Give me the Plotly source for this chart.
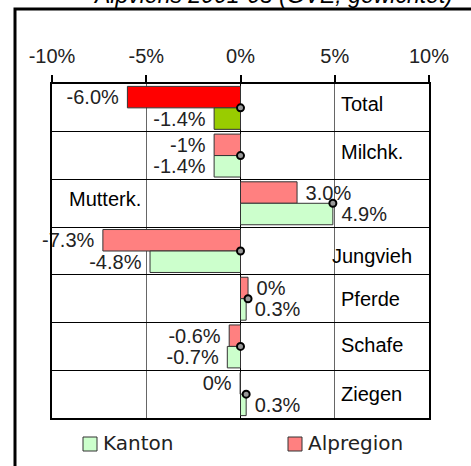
import plotly.graph_objects as go

# ---- data ----
categories = ["Total", "Milchk.", "Mutterk.", "Jungvieh", "Pferde", "Schafe", "Ziegen"]
alpregion = [-6.0, -1.4, 3.0, -7.3, 0.4, -0.6, -0.02]
kanton = [-1.4, -1.4, 4.9, -4.8, 0.3, -0.7, 0.3]
alpregion_labels = ["-6.0%", "-1%", "3.0%", "-7.3%", "0%", "-0.6%", "0%"]
kanton_labels = ["-1.4%", "-1.4%", "4.9%", "-4.8%", "0.3%", "-0.7%", "0.3%"]
marker_x = [0, 0, 4.9, 0, 0.4, 0, 0.3]
tick_vals = [-10, -5, 0, 5, 10]
tick_text = ["-10%", "-5%", "0%", "5%", "10%"]
title_text = "Alpviehs 2001-05 (GVE, gewichtet)"
legend_names = ["Kanton", "Alpregion"]

# ---- style ----
NUM_FONT = "Liberation Sans, Arial, sans-serif"
CAT_FONT = "Liberation Sans, Arial, sans-serif"
LEG_FONT = "DejaVu Sans, Verdana, sans-serif"
ALP_COL, ALP_TOTAL = "#FF8080", "#FF0000"
KAN_COL, KAN_TOTAL = "#CCFFCC", "#99CC00"
BW = 0.45

L, R, T, B = 52, 42, 84, 48
W, H = 471, 466
PW, PH = W - L - R, H - T - B


def px2paper_x(px):
    return (px - L) / PW


def px2paper_y(py):
    return (H - B - py) / PH


def pad_tpl(vals):
    return ["%{text}\u00a0" if v < 0 else "\u00a0%{text}" for v in vals]


alp_colors = [ALP_TOTAL if c == "Total" else ALP_COL for c in categories]
kan_colors = [KAN_TOTAL if c == "Total" else KAN_COL for c in categories]

fig = go.Figure()

fig.add_trace(go.Bar(
    name=legend_names[1], y=categories, x=alpregion, orientation="h",
    offset=-BW, width=BW,
    marker=dict(color=alp_colors, line=dict(color="#333333", width=1)),
    text=alpregion_labels, texttemplate=pad_tpl(alpregion),
    textposition="outside", constraintext="none", cliponaxis=False,
    outsidetextfont=dict(family=NUM_FONT, size=20, color="#222222"),
    showlegend=False, hoverinfo="skip",
))
fig.add_trace(go.Bar(
    name=legend_names[0], y=categories, x=kanton, orientation="h",
    offset=0, width=BW,
    marker=dict(color=kan_colors, line=dict(color="#333333", width=1)),
    text=kanton_labels, texttemplate=pad_tpl(kanton),
    textposition="outside", constraintext="none", cliponaxis=False,
    outsidetextfont=dict(family=NUM_FONT, size=20, color="#222222"),
    showlegend=False, hoverinfo="skip",
))
fig.add_trace(go.Scatter(
    x=marker_x, y=categories, mode="markers", cliponaxis=False,
    marker=dict(symbol="circle", size=7, color="#999999",
                line=dict(color="black", width=2)),
    showlegend=False, hoverinfo="skip",
))

# category labels
cat_pos = {"Mutterk.": (-9.2, 4), "Jungvieh": (4.76, -5), "Total": (5.24, 4),
           "Milchk.": (5.24, 4), "Pferde": (5.24, 0), "Schafe": (5.24, 1),
           "Ziegen": (5.24, 0)}
annotations = []
for c in categories:
    xx, ys = cat_pos[c]
    annotations.append(dict(x=xx, y=c, xref="x", yref="y", text=c,
                            showarrow=False, xanchor="left", yanchor="middle",
                            yshift=ys,
                            font=dict(family=CAT_FONT, size=20, color="black")))

# title (partly cut off at top, as in the original)
annotations.append(dict(x=px2paper_x(455), y=px2paper_y(10), xref="paper",
                        yref="paper", text="<i>" + title_text + "</i>",
                        showarrow=False, xanchor="right", yanchor="bottom",
                        font=dict(family=NUM_FONT, size=23, color="black")))

# manual legend
shapes = []
leg_items = [(legend_names[0], KAN_COL, 83), (legend_names[1], ALP_COL, 288)]
for name, col, x0 in leg_items:
    shapes.append(dict(type="rect", xref="paper", yref="paper",
                       x0=px2paper_x(x0), x1=px2paper_x(x0 + 14),
                       y0=px2paper_y(451), y1=px2paper_y(437),
                       fillcolor=col, line=dict(color="#333333", width=1)))
    annotations.append(dict(x=px2paper_x(x0 + 18), y=px2paper_y(443),
                            xref="paper", yref="paper", text=name,
                            showarrow=False, xanchor="left", yanchor="middle",
                            font=dict(family=LEG_FONT, size=20, color="#222222")))

# outer frame (extends past the canvas right and bottom)
shapes.append(dict(type="rect", xref="paper", yref="paper",
                   x0=px2paper_x(15), x1=px2paper_x(490),
                   y0=px2paper_y(490), y1=px2paper_y(9),
                   line=dict(color="black", width=3), layer="above"))

fig.update_layout(
    width=W, height=H,
    margin=dict(l=L, r=R, t=T, b=B, pad=0),
    paper_bgcolor="white", plot_bgcolor="white",
    barmode="overlay",
    showlegend=False,
    annotations=annotations,
    shapes=shapes,
    xaxis=dict(
        range=[-10, 10], side="top", tickvals=tick_vals, ticktext=tick_text,
        ticks="outside", ticklen=7, tickwidth=2, tickcolor="black",
        ticklabelstandoff=4,
        tickfont=dict(family=NUM_FONT, size=20, color="#222222"),
        showline=True, linecolor="black", linewidth=2, mirror=True,
        showgrid=True, gridcolor="#666666", gridwidth=1,
        zeroline=True, zerolinecolor="black", zerolinewidth=1,
        fixedrange=True,
    ),
    yaxis=dict(
        type="category", categoryorder="array", categoryarray=categories,
        autorange="reversed", showticklabels=False, ticks="",
        tickson="boundaries", showgrid=True, gridcolor="black", gridwidth=1,
        showline=True, linecolor="black", linewidth=2, mirror=True,
        zeroline=False, fixedrange=True,
    ),
)

fig.write_html("out.html", config={"displayModeBar": False},
               post_script="document.body.style.margin='0';")
